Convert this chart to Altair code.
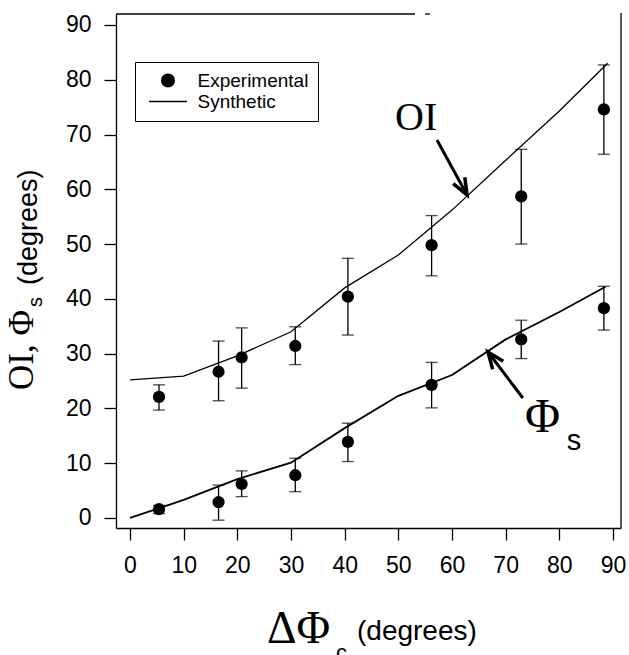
import altair as alt
import pandas as pd

# ---- data ----
exp_x = [5.4, 16.5, 20.8, 30.8, 40.6, 56.2, 72.9, 88.3]
oi_exp = [22.1, 26.7, 29.3, 31.4, 40.4, 49.8, 58.7, 74.6]
oi_lo = [19.7, 21.4, 23.7, 28.0, 33.4, 44.2, 50.0, 66.4]
oi_hi = [24.3, 32.3, 34.7, 34.9, 47.4, 55.2, 67.3, 82.7]
phi_exp = [1.6, 2.9, 6.2, 7.8, 13.9, 24.3, 32.6, 38.3]
phi_lo = [0.8, -0.4, 3.9, 4.8, 10.3, 20.1, 29.1, 34.3]
phi_hi = [2.3, 6.0, 8.6, 10.9, 17.3, 28.4, 36.1, 42.3]

oi_syn_x = [0, 10, 20, 30, 40, 50, 60, 70, 80, 89]
oi_syn_y = [25.2, 25.9, 29.6, 34.0, 42.0, 48.0, 56.2, 65.3, 74.3, 83.0]
phi_syn_x = [0, 10, 20, 30, 40, 50, 60, 70, 80, 88.6]
phi_syn_y = [0.0, 3.3, 7.1, 10.1, 16.4, 22.3, 26.1, 32.6, 37.6, 42.2]

x_ticks = [0, 10, 20, 30, 40, 50, 60, 70, 80, 90]
y_ticks = [0, 10, 20, 30, 40, 50, 60, 70, 80, 90]
legend_items = ["Experimental", "Synthetic"]

# ---- tables ----
exp_df = pd.DataFrame({
    "x": exp_x * 2,
    "y": oi_exp + phi_exp,
    "lo": oi_lo + phi_lo,
    "hi": oi_hi + phi_hi,
    "series": ["OI"] * len(exp_x) + ["Phi"] * len(exp_x),
})
oi_syn = pd.DataFrame({"x": oi_syn_x, "y": oi_syn_y})
phi_syn = pd.DataFrame({"x": phi_syn_x, "y": phi_syn_y})

W, H = 505, 514
xs = alt.Scale(domain=[-2.61, 91.49], nice=False, zero=False)
ys = alt.Scale(domain=[-1.83, 92.0], nice=False, zero=False)

SANS = "Liberation Sans"
SERIF = "Liberation Serif"

AX = dict(grid=False, domainColor="black", domainWidth=1.3, tickColor="black", tickWidth=1.3,
          tickSize=12, labelFont=SANS, labelFontSize=23, labelColor="black", title=None)
x_enc = alt.X("x:Q", scale=xs, axis=alt.Axis(values=x_ticks, labelPadding=14, **AX))
y_enc = alt.Y("y:Q", scale=ys, axis=alt.Axis(values=y_ticks, labelPadding=13, **AX))

line_oi = alt.Chart(oi_syn).mark_line(color="black", strokeWidth=1.3).encode(x=x_enc, y=y_enc)
line_phi = alt.Chart(phi_syn).mark_line(color="black", strokeWidth=1.8).encode(x=x_enc, y=y_enc)

err = alt.Chart(exp_df).mark_rule(color="black", strokeWidth=1.3).encode(
    x=alt.X("x:Q", scale=xs), y=alt.Y("lo:Q", scale=ys), y2="hi:Q")
cap_lo = alt.Chart(exp_df).mark_tick(color="black", orient="horizontal", size=12, thickness=1.3).encode(
    x=alt.X("x:Q", scale=xs), y=alt.Y("lo:Q", scale=ys))
cap_hi = alt.Chart(exp_df).mark_tick(color="black", orient="horizontal", size=12, thickness=1.3).encode(
    x=alt.X("x:Q", scale=xs), y=alt.Y("hi:Q", scale=ys))
pts = alt.Chart(exp_df).mark_circle(color="black", size=150, opacity=1).encode(
    x=alt.X("x:Q", scale=xs), y=alt.Y("y:Q", scale=ys))

# ---- annotations (data coordinates) ----
arrow_df = pd.DataFrame({
    "x": [57.2, 73.2], "y": [69.0, 21.9],
    "x2": [62.8, 66.7], "y2": [58.97, 30.3],
    "ang": [151, 323],
})
shafts = alt.Chart(arrow_df).mark_rule(color="black", strokeWidth=3).encode(
    x=alt.X("x:Q", scale=xs), y=alt.Y("y:Q", scale=ys), x2="x2:Q", y2="y2:Q")
head_path = "M-0.4,1L0,0L0.4,1"
heads = alt.Chart(arrow_df).mark_point(
    shape=head_path, size=1100, filled=False, stroke="black", strokeWidth=3.5, opacity=1
).encode(x=alt.X("x2:Q", scale=xs), y=alt.Y("y2:Q", scale=ys), angle=alt.Angle("ang:Q", scale=None))

lab_oi = alt.Chart(pd.DataFrame({"t": ["OI"], "x": [49.4], "y": [70.8]})).mark_text(
    font=SERIF, fontSize=40, align="left", baseline="alphabetic", color="black"
).encode(x=alt.X("x:Q", scale=xs), y=alt.Y("y:Q", scale=ys), text="t:N")
lab_phi = alt.Chart(pd.DataFrame({"t": ["Φ"], "x": [73.6], "y": [15.7]})).mark_text(
    font=SERIF, fontSize=48, align="left", baseline="alphabetic", color="black"
).encode(x=alt.X("x:Q", scale=xs), y=alt.Y("y:Q", scale=ys), text="t:N")
lab_s = alt.Chart(pd.DataFrame({"t": ["s"], "x": [81.4], "y": [12.4]})).mark_text(
    font=SANS, fontSize=29, align="left", baseline="alphabetic", color="black"
).encode(x=alt.X("x:Q", scale=xs), y=alt.Y("y:Q", scale=ys), text="t:N")

# ---- legend (filled custom symbols: dot and thin bar) ----
circle_path = "M-1.1,0A1.1,1.1,0,1,1,1.1,0A1.1,1.1,0,1,1,-1.1,0Z"
line_path = "M-3,-0.1L3,-0.1L3,0.1L-3,0.1Z"
legend_layer = alt.Chart(pd.DataFrame({"item": legend_items})).mark_point(
    filled=True, color="black", opacity=0
).encode(
    x=alt.value(0), y=alt.value(0),
    shape=alt.Shape("item:N", scale=alt.Scale(domain=legend_items, range=[circle_path, line_path]),
                    legend=alt.Legend(
                        title=None, orient="none", legendX=19, legendY=48,
                        strokeColor="black", fillColor="white", padding=9,
                        labelFont=SANS, labelFontSize=19, labelColor="black",
                        labelOffset=20, symbolOffset=14.5, rowPadding=1,
                        symbolSize=160, symbolOpacity=1, symbolStrokeWidth=0,
                        symbolFillColor="black",
                    )),
)

# ---- frame (right edge and partial top edge) ----
one = pd.DataFrame({"k": [0]})
right_edge = alt.Chart(one).mark_rule(color="black", strokeWidth=1.3).encode(
    x=alt.value(W), y=alt.value(-1), y2=alt.value(H))
top_edge = alt.Chart(one).mark_rule(color="black", strokeWidth=1.3).encode(
    x=alt.value(0), x2=alt.value(299), y=alt.value(0))
top_dash = alt.Chart(one).mark_rule(color="black", strokeWidth=1.3).encode(
    x=alt.value(309), x2=alt.value(314), y=alt.value(0))

# ---- axis titles (mixed fonts) ----
def txt(s, x, y, font, size, angle=0):
    return alt.Chart(pd.DataFrame({"t": [s]})).mark_text(
        font=font, fontSize=size, align="left", baseline="alphabetic", color="black", angle=angle
    ).encode(x=alt.value(x), y=alt.value(y), text="t:N")

yt1 = txt("OI, Φ", -83, 376, SERIF, 35, 270)
yt2 = txt("s", -74, 293, SANS, 20, 270)
yt3 = txt("(degrees)", -79, 271, SANS, 27, 270)
xt1 = txt("ΔΦ", 151, 629, SERIF, 46)
xt2 = txt("c", 220, 646, SANS, 22)
xt3 = txt("(degrees)", 241, 626, SANS, 28)

chart = alt.layer(
    line_oi, line_phi, err, cap_lo, cap_hi, pts,
    shafts, heads, lab_oi, lab_phi, lab_s,
    legend_layer, right_edge, top_edge, top_dash,
    yt1, yt2, yt3, xt1, xt2, xt3,
).properties(
    width=W, height=H,
    autosize=alt.AutoSizeParams(type="none"),
    padding={"left": 116, "top": 14, "right": 8, "bottom": 127},
    background="white",
).configure_view(stroke=None)

chart.save("out.html", embed_options={"renderer": "svg", "actions": False})
